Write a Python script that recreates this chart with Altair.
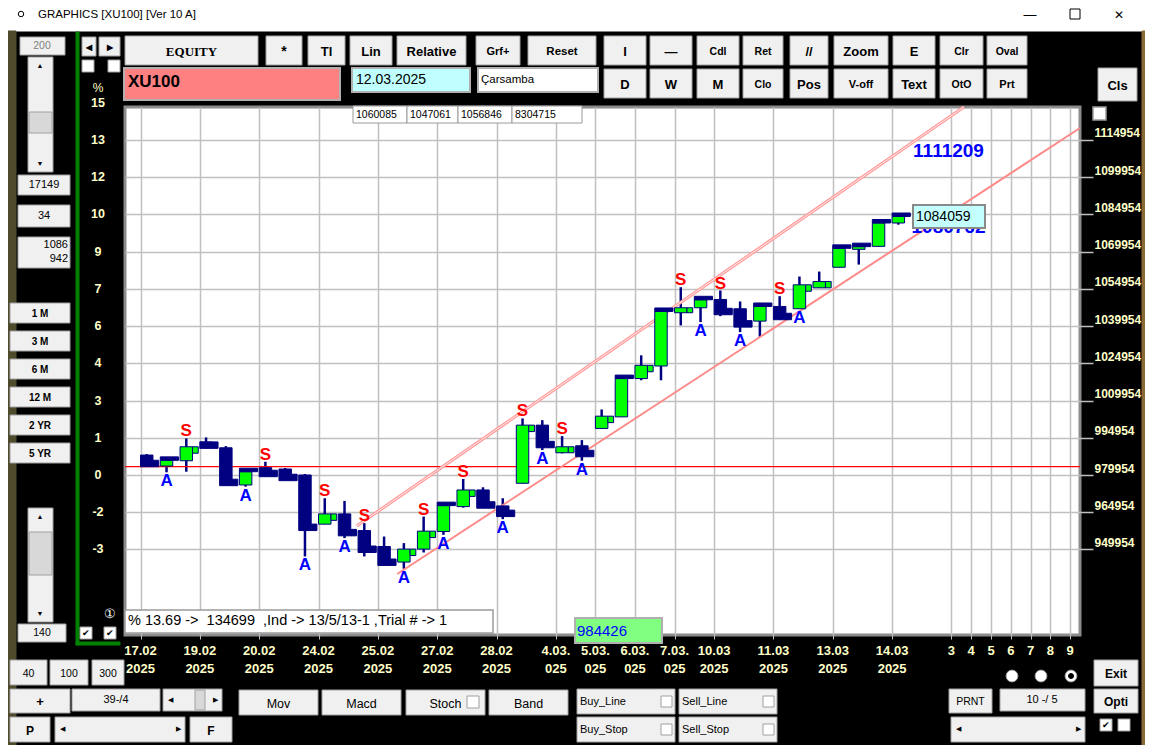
import altair as alt
import pandas as pd

# ---------------- data ----------------
opens = [987986, 983568, 985697, 993327, 990918, 975938, 982886, 982364, 979954, 960155,
         964292, 957585, 951159, 944894, 950115, 957183, 967223, 973930, 967504, 976621,
         1000034, 988910, 991721, 998709, 1003367, 1018789, 1023849, 1045294, 1047302, 1050636,
         1046901, 1041921, 1047824, 1046901, 1055334, 1063607, 1070836, 1072041, 1081438]
highs = [988388, 985858, 994693, 995094, 991600, 981279, 985295, 982765, 980356, 970597,
         969512, 960557, 955175, 952525, 963207, 967625, 978348, 975014, 970597, 1002725,
         1002042, 995616, 994010, 1006339, 1018789, 1028146, 1045816, 1055575, 1050515, 1054250,
         1049832, 1047824, 1051961, 1059872, 1061880, 1071238, 1071920, 1081438, 1084059]
lows = [983287, 981038, 981279, 990677, 975657, 975255, 979271, 977665, 947143, 960155,
        954533, 947143, 943529, 942204, 948750, 955858, 966822, 966581, 962163, 976621,
        989994, 988669, 985697, 998709, 1003367, 1018106, 1018106, 1040194, 1041519, 1043929,
        1037503, 1035495, 1042483, 1046901, 1055334, 1063607, 1064692, 1072041, 1080756]
closes = [983287, 985858, 991319, 990677, 975657, 981279, 979271, 977665, 957585, 964292,
          955456, 948750, 943529, 950115, 957344, 967625, 973930, 966581, 963207, 1000034,
          990918, 991319, 987303, 1003648, 1018789, 1024130, 1045816, 1047302, 1050515, 1044491,
          1039511, 1047824, 1042483, 1056539, 1057864, 1071238, 1071920, 1081438, 1084059]
cap_idx = [1, 5, 15, 24, 26, 28, 31, 35, 36, 37, 38]
s_idx = [2, 6, 9, 11, 14, 16, 19, 21, 27, 29, 32]
a_idx = [1, 5, 8, 10, 13, 15, 18, 20, 22, 28, 30, 33]

grid_slots = [0, 3, 6, 9, 12, 15, 18, 21, 23, 25, 27, 29, 32, 35, 38, 41, 42, 43, 44, 45, 46, 47]
date_line1 = ["17.02", "19.02", "20.02", "24.02", "25.02", "27.02", "28.02", "4.03.", "5.03.",
              "6.03.", "7.03.", "10.03", "11.03", "13.03", "14.03", "3", "4", "5", "6", "7", "8", "9"]
date_line2 = ["2025", "2025", "2025", "2025", "2025", "2025", "2025", "025", "025", "025", "025",
              "2025", "2025", "2025", "2025", "", "", "", "", "", "", ""]

right_ticks = [1114954, 1099954, 1084954, 1069954, 1054954, 1039954, 1024954, 1009954,
               994954, 979954, 964954, 949954]
left_levels = [1129954, 1114954, 1099954, 1084954, 1069954, 1054954, 1039954, 1024954,
               1009954, 994954, 979954, 964954, 949954]
left_labels = ["15", "13", "12", "10", "9", "7", "6", "4", "3", "1", "0", "-2", "-3"]

ref_level = [983287]
upper_x = [10.93, 41.63]
upper_y = [959416, 1128148]
lower_x = [12.98, 47.5]
lower_y = [940087, 1119691]

target_values = [1111209, 1080762]
last_price = "1084059"
top_values = ["1060085", "1047061", "1056846", "8304715"]
info_text = "% 13.69 ->\u00a0\u00a0134699\u00a0\u00a0,Ind -> 13/5/13-1 ,Trial # -> 1"
green_value = "984426"

# ---------------- styles ----------------
NAVY = "#000080"
GREEN = "#00ff00"
GRID = "#c0c0c0"
CREAM = "#ffffc8"
BTN = "#f0f0f0"
FONT = "Liberation Sans, Arial, sans-serif"
SERIF = "Liberation Serif, Times New Roman, serif"
BODY_W = 0.63
FL_END = 0.92
FLANGE = 2600
CAP = 1400
OX, OY = 125, 107   # page position of the plot area's top-left corner

rows = []
for i in range(len(opens)):
    o, h, l, c = opens[i], highs[i], lows[i], closes[i]
    up = c >= o
    fl = min(FLANGE, abs(o - c))
    rows.append(dict(i=i, o=o, h=h, l=l, c=c, lo=min(o, c), hi=max(o, c),
                     x1=i, x2=i + BODY_W, xc=i + BODY_W / 2, fx2=i + FL_END,
                     fy2=(c - fl) if up else (c + fl), cy2=c + CAP,
                     fill=GREEN if up else NAVY,
                     cap=i in cap_idx, s=i in s_idx, a=i in a_idx))
df = pd.DataFrame(rows)

xs = alt.Scale(domain=[-0.784, 47.5], nice=False, zero=False)
ys = alt.Scale(domain=[915522, 1128148], nice=False, zero=False)
xaxis = alt.Axis(values=grid_slots, grid=True, gridColor=GRID, gridWidth=1.5, labels=False,
                 ticks=True, tickSize=4, tickColor=GRID, domain=False, title=None)
yaxis = alt.Axis(orient="right", values=right_ticks, grid=True, gridColor=GRID, gridWidth=1.5,
                 tickSize=13, tickColor=GRID, tickWidth=1.5, labelColor=CREAM, labelFont=FONT,
                 labelFontSize=12, labelFontWeight="bold", labelBaseline="bottom",
                 labelAlign="left", labelPadding=1, format="d", domain=False, title=None)


def X(f):
    return alt.X(f, type="quantitative", scale=xs, axis=xaxis)


def Y(f):
    return alt.Y(f, type="quantitative", scale=ys, axis=yaxis)


base = alt.Chart(df)
one = pd.DataFrame({"k": [0]})

wick = base.mark_rule(color=NAVY, strokeWidth=2.5).encode(x=X("xc"), y=Y("l"), y2="h")
ref = alt.Chart(pd.DataFrame({"v": ref_level})).mark_rule(color="#ff0000", strokeWidth=1.3).encode(y=Y("v"))
body = base.mark_rect(stroke=NAVY, strokeWidth=1).encode(
    x=X("x1"), x2="x2", y=Y("lo"), y2="hi", fill=alt.Fill("fill:N", scale=None))
flange = base.transform_filter("!datum.cap").mark_rect(stroke=NAVY, strokeWidth=1).encode(
    x=X("x2"), x2="fx2", y=Y("c"), y2="fy2", fill=alt.Fill("fill:N", scale=None))
cap = base.transform_filter("datum.cap").mark_rect(fill=NAVY, stroke=NAVY, strokeWidth=1).encode(
    x=X("x1"), x2="fx2", y=Y("c"), y2="cy2")

up_df = pd.DataFrame({"x": upper_x, "y": upper_y})
lo_df = pd.DataFrame({"x": lower_x, "y": lower_y})
upper1 = alt.Chart(up_df).mark_line(color="#ff9a9a", strokeWidth=3.2).encode(x=X("x"), y=Y("y"))
upper2 = alt.Chart(up_df).mark_line(color="#ffffff", strokeWidth=1, opacity=0.8).encode(x=X("x"), y=Y("y"))
lower = alt.Chart(lo_df).mark_line(color="#ff8a8a", strokeWidth=2).encode(x=X("x"), y=Y("y"))

s_txt = base.transform_filter("datum.s").mark_text(
    text="S", color="#ff0000", font=FONT, fontSize=17, fontWeight="bold",
    baseline="alphabetic", dy=-2).encode(x=X("xc"), y=Y("h"))
a_txt = base.transform_filter("datum.a").mark_text(
    text="A", color="#0000ff", font=FONT, fontSize=17, fontWeight="bold",
    baseline="top", dy=1).encode(x=X("xc"), y=Y("l"))

tgt = alt.Chart(pd.DataFrame({"v": target_values, "t": [str(v) for v in target_values]})).mark_text(
    color="#0000ff", font=FONT, fontSize=19, fontWeight="bold", baseline="middle", dy=2).encode(
    x=alt.value(948.5 - OX), y=Y("v"), text="t:N")

layers = [wick, ref, upper1, upper2, lower, body, flange, cap, s_txt, a_txt, tgt]


def box(x1, y1, x2, y2, fill=BTN, stroke="#a0a0a0", sw=1.0):
    layers.append(alt.Chart(one).mark_rect(fill=fill, stroke=stroke, strokeWidth=sw).encode(
        x=alt.value(x1 - OX), x2=alt.value(x2 - OX), y=alt.value(y1 - OY), y2=alt.value(y2 - OY)))


def label(x, y, t, size=12.0, weight="bold", color="black", align="center", font=FONT):
    layers.append(alt.Chart(one).mark_text(
        text=t, color=color, font=font, fontSize=size, fontWeight=weight, align=align,
        baseline="middle").encode(x=alt.value(x - OX), y=alt.value(y - OY)))


def dot(x, y, size, fill, stroke="#a0a0a0"):
    layers.append(alt.Chart(one).mark_point(
        shape="circle", filled=True, fill=fill, stroke=stroke, strokeWidth=1, size=size,
        opacity=1).encode(x=alt.value(x - OX), y=alt.value(y - OY)))


def button(x1, y1, x2, y2, t, size=12.0, font=FONT, weight="bold"):
    box(x1, y1, x2, y2)
    label((x1 + x2) / 2, (y1 + y2) / 2 + 1, t, size=size, font=font, weight=weight)


# last-price box
box(913, 205, 985, 228, fill="#c4ffff", stroke="#8a8a8a", sw=2)
label(916, 217, last_price, size=14, weight="normal", align="left")

# small value boxes at top of plot
edges = [353, 407, 458, 512, 582]
for k, t in enumerate(top_values):
    box(edges[k], 106, edges[k + 1], 123, fill="white", stroke="#9a9a9a")
    label(edges[k] + 3, 115, t, size=10.5, weight="normal", align="left")

# info box and green value box
box(125, 610, 493, 633, fill="white", stroke="#9a9a9a", sw=1.5)
label(128, 621, info_text, size=14.5, weight="normal", align="left")
box(575, 618, 662, 643, fill="#80ff80", stroke="#b0b0b0", sw=2)
label(577, 631, green_value, size=15, weight="normal", color="#0000ff", align="left")

# left % labels
layers.append(alt.Chart(pd.DataFrame({"v": left_levels, "t": left_labels})).mark_text(
    color=CREAM, font=FONT, fontSize=12.5, fontWeight="bold", align="center", baseline="middle").encode(
    x=alt.value(98 - OX), y=Y("v"), text="t:N"))
label(98, 88, "%", size=12, weight="normal", color=CREAM)

# date labels
dates = pd.DataFrame({"x": grid_slots,
                      "t": [a + ("\n" + b if b else "") for a, b in zip(date_line1, date_line2)]})
layers.append(alt.Chart(dates).mark_text(
    color=CREAM, font=FONT, fontSize=13, fontWeight="bold", align="center", baseline="top",
    lineBreak="\n", lineHeight=18).encode(x=X("x"), y=alt.value(645 - OY), text="t:N"))

# ---------------- window chrome ----------------
box(8, 8, 1145, 31, fill="white", stroke="white")
label(38, 15, "GRAPHICS  [XU100] [Ver 10 A]", size=11.5, weight="normal", align="left")
dot(21, 14, 30, "white", stroke="black")
label(1030, 15, "\u2014", size=13, weight="normal")
box(1070, 9, 1080, 19, fill="white", stroke="black", sw=1)
label(1119, 15, "\u2715", size=12, weight="normal")
box(8, 31, 16, 747, fill="#4e4a2c", stroke="#4e4a2c")
box(1142, 31, 1145, 747, fill="#8a6a34", stroke="#8a6a34")

# toolbar row 1
button(125, 36, 258, 65, "EQUITY", size=13, font=SERIF)
for x1, x2, t, fs in [(266, 302, "*", 14), (308, 345, "Tl", 13), (350, 392, "Lin", 13),
                      (397, 466, "Relative", 13), (476, 520, "Grf+", 11), (528, 596, "Reset", 11.5),
                      (604, 646, "I", 13), (650, 692, "\u2014", 13), (697, 739, "Cdl", 10.5),
                      (743, 783, "Ret", 10.5), (790, 828, "//", 13), (834, 888, "Zoom", 13),
                      (893, 935, "E", 13), (940, 983, "Clr", 10.5), (987, 1027, "Oval", 10.5)]:
    button(x1, 36, x2, 65, t, size=fs)
# toolbar row 2
box(124, 68, 340, 100, fill="#ff8080", stroke="#b0b0b0", sw=2)
label(128, 82, "XU100", size=17, align="left")
box(352, 68, 470, 92, fill="#c0ffff", stroke="#b0b0b0", sw=2)
label(356, 80, "12.03.2025", size=14, weight="normal", align="left")
box(478, 68, 598, 92, fill="white", stroke="#b0b0b0", sw=2)
label(481, 80, "\u00c7arsamba", size=11.5, weight="normal", align="left")
for x1, x2, t, fs in [(604, 646, "D", 13), (650, 692, "W", 13), (697, 739, "M", 13),
                      (743, 783, "Clo", 10.5), (790, 828, "Pos", 13), (834, 888, "V-off", 11),
                      (893, 935, "Text", 13), (940, 983, "OtO", 10.5), (987, 1027, "Prt", 11)]:
    button(x1, 69, x2, 98, t, size=fs)
button(1098, 68, 1137, 101, "Cls", size=13)
button(82, 37, 96, 56, "\u25c0", size=8)
button(99, 37, 120, 56, "\u25b6", size=8)
box(82, 60, 94, 72, fill="white")
box(108, 60, 120, 72, fill="white")

# left panel
box(76, 32, 79, 645, fill="#008000", stroke="#008000")
box(76, 642, 120, 645, fill="#008000", stroke="#008000")
box(20, 37, 65, 55, fill="#f0f0f0")
label(42, 46, "200", size=10.5, weight="normal", color="#808080")
box(28, 57, 53, 172, fill="#f0f0f0")
box(29, 112, 52, 133, fill="#d8d8d8")
label(40, 66, "\u25b2", size=7, weight="normal")
label(40, 164, "\u25bc", size=7, weight="normal")
box(18, 175, 70, 195, fill="#f0f0f0")
label(44, 185, "17149", size=11, weight="normal")
box(18, 205, 70, 227, fill="#f0f0f0")
label(44, 216, "34", size=11, weight="normal")
box(18, 237, 70, 268, fill="#f0f0f0")
label(68, 245, "1086", size=11, weight="normal", align="right")
label(68, 259, "942", size=11, weight="normal", align="right")
for k, t in enumerate(["1 M", "3 M", "6 M", "12 M", "2 YR", "5 YR"]):
    y1 = 303 + 28 * k
    button(10, y1, 70, y1 + 20, t, size=10)
box(28, 508, 53, 622, fill="#f0f0f0")
box(29, 532, 52, 575, fill="#d8d8d8")
label(40, 517, "\u25b2", size=7, weight="normal")
label(40, 614, "\u25bc", size=7, weight="normal")
box(18, 624, 66, 642, fill="#f0f0f0")
label(42, 633, "140", size=10.5, weight="normal")
box(80, 627, 92, 639, fill="white")
box(104, 627, 116, 639, fill="white")
label(86, 633, "\u2714", size=9, weight="normal")
label(110, 633, "\u2714", size=9, weight="normal")
label(110, 614, "\u2460", size=13, weight="normal", color="white")

# checkbox right of plot
box(1093, 107, 1106, 120, fill="white", stroke="#9a9a9a", sw=1.5)

# bottom controls
button(10, 660, 47, 685, "40", size=10.5, weight="normal")
button(50, 660, 88, 685, "100", size=10.5, weight="normal")
button(92, 660, 124, 685, "300", size=10.5, weight="normal")
button(10, 689, 70, 713, "+", size=13)
box(72, 689, 160, 711, fill="#f0f0f0")
label(116, 700, "39-/4", size=11, weight="normal")
box(163, 689, 222, 711, fill="#f0f0f0")
box(195, 690, 205, 710, fill="#d8d8d8")
label(170, 700, "\u25c0", size=7, weight="normal")
label(215, 700, "\u25b6", size=7, weight="normal")
button(10, 717, 50, 742, "P", size=12)
box(55, 717, 185, 742, fill="#f0f0f0")
label(62, 729, "\u25c0", size=7, weight="normal")
label(178, 729, "\u25b6", size=7, weight="normal")
button(190, 717, 232, 742, "F", size=12)
for x1, x2, t in [(239, 318, "Mov"), (322, 401, "Macd"), (406, 485, "Stoch"), (489, 568, "Band")]:
    button(x1, 690, x2, 715, t, size=12.5, weight="normal")
box(467, 696, 479, 708, fill="white")
for x1, y1, t in [(577, 689, "Buy_Line"), (679, 689, "Sell_Line"), (577, 717, "Buy_Stop"),
                  (679, 717, "Sell_Stop")]:
    box(x1, y1, x1 + 98, y1 + 25)
    label(x1 + 3, y1 + 13, t, size=11, weight="normal", align="left")
    box(x1 + 84, y1 + 7, x1 + 95, y1 + 18, fill="white")
button(949, 689, 992, 713, "PRNT", size=10.5, weight="normal")
box(1000, 689, 1085, 711, fill="#f0f0f0")
label(1042, 700, "10 -/ 5", size=11, weight="normal")
button(1094, 660, 1138, 686, "Exit", size=12)
button(1094, 689, 1138, 713, "Opti", size=12)
for cx in [1012, 1041, 1071]:
    dot(cx, 676, 140, "white")
dot(1071, 676, 25, "black", stroke="black")
box(951, 717, 1085, 742, fill="#f0f0f0")
label(958, 729, "\u25c0", size=7, weight="normal")
label(1078, 729, "\u25b6", size=7, weight="normal")
box(1100, 719, 1112, 731, fill="white")
box(1118, 719, 1130, 731, fill="white")
label(1106, 725, "\u2714", size=9, weight="normal")

chart = alt.layer(*layers).properties(
    width=955, height=528,
    padding={"left": 117, "top": 99, "right": 65, "bottom": 110},
    autosize=alt.AutoSizeParams(type="none"),
    background="black",
).configure_view(fill="white", stroke="#8c8c8c", strokeWidth=3)

chart.save("out.html", embed_options={"renderer": "svg", "actions": False})
